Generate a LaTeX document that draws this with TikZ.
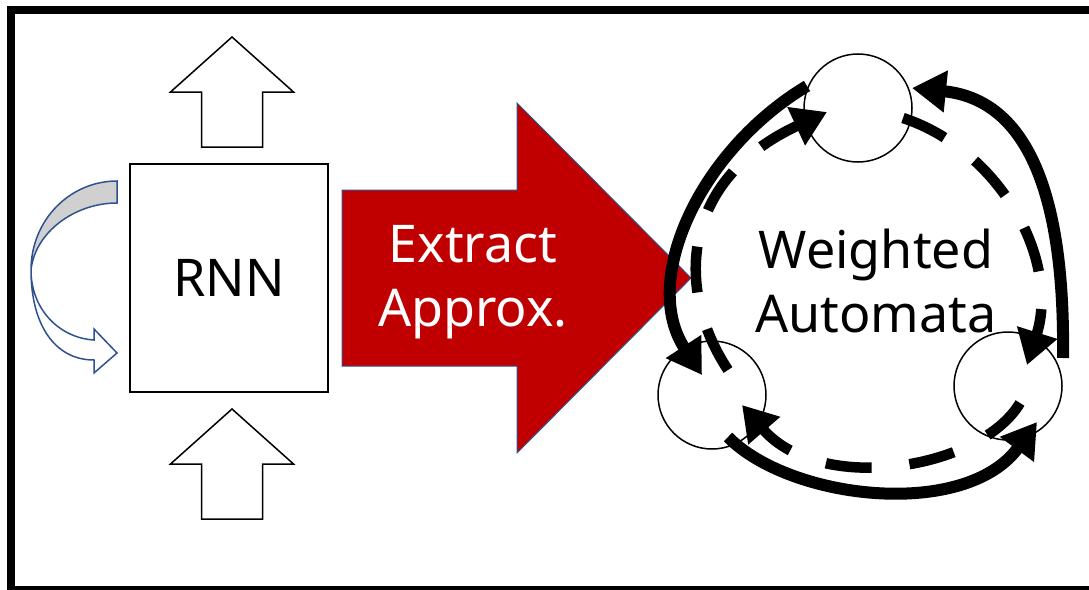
\documentclass[tikz,border=0pt]{standalone}
\usepackage{fontspec}
\setmainfont{Noto Sans}
\usetikzlibrary{arrows.meta,calc}
\definecolor{extractred}{HTML}{C00000}
\definecolor{shapeblue}{HTML}{2F528F}
\definecolor{bandgray}{HTML}{D0D0D0}
\tikzstyle{block} = [rectangle, draw, line width=1.5pt, minimum width=198pt, minimum height=228pt, inner sep=0pt]
\tikzstyle{state} = [circle, draw, line width=1.5pt, minimum size=108pt, inner sep=0pt]
\tikzstyle{bigtext} = [font=\fontsize{52}{64}\selectfont, align=center, inner sep=0pt]
\tikzstyle{hollow} = [draw, line width=1.5pt, fill=white, line join=miter]
\tikzstyle{bigarrow} = [draw=shapeblue, line width=1pt, fill=extractred]
\tikzstyle{loopband} = [draw=shapeblue, line width=1.5pt]
\tikzstyle{trans} = [line width=12pt, -{Triangle[length=34pt,width=40pt]}]
\tikzstyle{approx} = [trans, line width=10.5pt, dash pattern=on 46pt off 38pt]
\tikzset{uparrow/.pic={
    \draw[hollow] (0,0) -- (61.5,55) -- (30.5,55) -- (30.5,110) -- (-30.5,110) -- (-30.5,55) -- (-61.5,55) -- cycle;
}}

\begin{document}
\begin{tikzpicture}[x=1pt, y=-1pt]
    \useasboundingbox (0,0) rectangle (1089,589);
    \draw[line width=8pt] (10.5,9.5) rectangle (1100,590);

    % RNN with its loop
    \node[block, bigtext] (rnn) at (229,278) {RNN};
    \pic at (232,37) {uparrow};
    \pic at (232,409) {uparrow};
    \draw[loopband, fill=bandgray] (117,181) .. controls (70,181) and (31,220) .. (31,270)
        .. controls (35,232) and (75,203) .. (117,203) -- cycle;
    \draw[loopband, fill=white] (31,270) .. controls (31,310) and (60,338) .. (94,340)
        -- (94,329) -- (117,353) -- (94,373) -- (94,360)
        .. controls (55,360) and (31,325) .. (31,270) -- cycle;

    % extraction
    \draw[bigarrow] (342,190) -- (517,190) -- (517,103) -- (691,278) -- (517,453) -- (517,366) -- (342,366) -- cycle;
    \node[bigtext, text=white] (extract) at (473,282) {Extract\\Approx.};

    % weighted automaton
    \node[state] (qtop) at (858,108) {};
    \node[state] (qleft) at (712,395) {};
    \node[state] (qright) at (1008,386) {};
    \node[bigtext] (wa) at (876,281) {Weighted\\Automata};

    \draw[trans] ($(qtop)+(-51,-22)$) .. controls (700,150) and (640,280) .. ($(qleft)+(-10,-20)$);
    \draw[trans] ($(qright)+(55,-28)$) .. controls (1065,200) and (1030,100) .. ($(qtop)+(54,-20)$);
    \draw[trans] ($(qleft)+(16,42)$) .. controls (790,500) and (965,520) .. ($(qright)+(29,36)$);
    \draw[approx] ($(qleft)+(16,-25)$) .. controls (675,290) and (680,180) .. ($(qtop)+(-31,4)$);
    \draw[approx] ($(qtop)+(45,10)$) .. controls (1000,150) and (1060,260) .. ($(qright)+(19,-21)$);
    \draw[approx] ($(qright)+(12,17)$) .. controls (980,470) and (820,495) .. ($(qleft)+(30,10)$);
\end{tikzpicture}
\end{document}
